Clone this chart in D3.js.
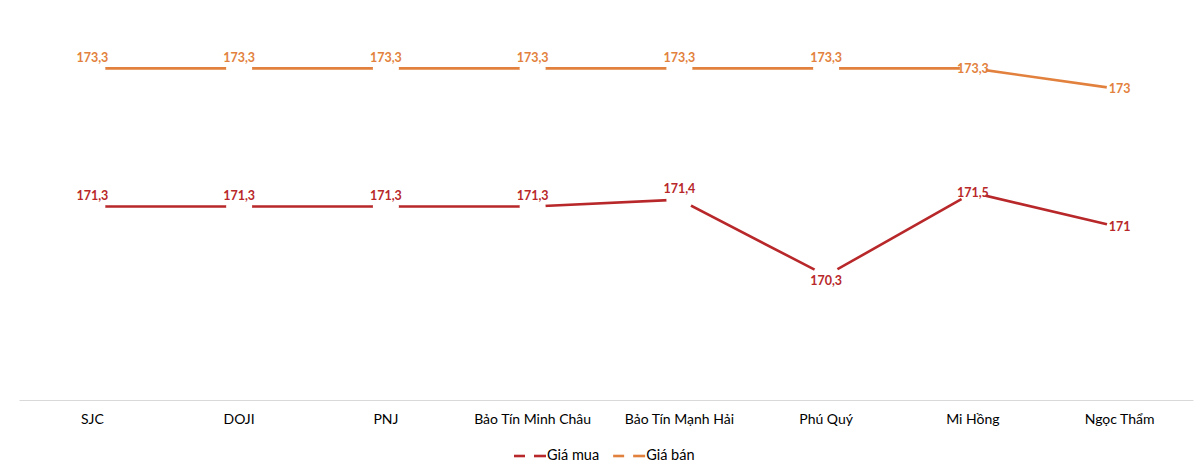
<!DOCTYPE html>
<html>
<head>
<meta charset="utf-8">
<script src="https://cdn.jsdelivr.net/npm/d3@7"></script>
<style>
  body { margin: 0; background: #fff; }
  svg { display: block; font-family: Lato, 'Noto Sans', sans-serif; }
</style>
</head>
<body>
<svg id="chart" width="1200" height="470"></svg>
<script>
// companies along the x axis
const companies = ['SJC', 'DOJI', 'PNJ', 'Bảo Tín Minh Châu', 'Bảo Tín Mạnh Hải', 'Phú Quý', 'Mi Hồng', 'Ngọc Thẩm'];
// buying price (giá mua), million VND / tael
const giaMua = [171.3, 171.3, 171.3, 171.3, 171.4, 170.3, 171.5, 171];
// selling price (giá bán)
const giaBan = [173.3, 173.3, 173.3, 173.3, 173.3, 173.3, 173.3, 173];
// where Excel dropped each data label
const muaLabelPos = ['above', 'above', 'above', 'above', 'above', 'below', 'center', 'center'];
const banLabelPos = ['above', 'above', 'above', 'above', 'above', 'above', 'center', 'center'];

const series = [
  { name: 'Giá mua', values: giaMua, pos: muaLabelPos, color: '#b8282a' },
  { name: 'Giá bán', values: giaBan, pos: banLabelPos, color: '#e2813d' },
];

const svg = d3.select('#chart');
const margin = { left: 19, right: 7, top: 20, bottom: 70 };
const width = 1200, height = 470;

const x = d3.scaleBand()
  .domain(companies)
  .range([margin.left, width - margin.right]);

const y = d3.scaleLinear()
  .domain([168.5, 174])
  .range([height - margin.bottom, margin.top]);

// category axis
const xAxis = svg.append('g')
  .attr('transform', `translate(0,${height - margin.bottom})`)
  .call(d3.axisBottom(x).tickSize(0).tickPadding(14));
xAxis.select('.domain').attr('stroke', '#d9d9d9').attr('stroke-width', 1.2);
xAxis.selectAll('text')
  .attr('font-family', 'Lato, sans-serif')
  .attr('font-size', 14)
  .attr('fill', '#000');

const cx = d => x(d) + x.bandwidth() / 2;
const fmt = v => String(v).replace('.', ',');
const offsets = { above: -10, below: 6, center: 1 };

const line = d3.line()
  .x((v, i) => cx(companies[i]))
  .y(v => y(v));

series.forEach(s => {
  svg.append('path')
    .datum(s.values)
    .attr('fill', 'none')
    .attr('stroke', s.color)
    .attr('stroke-width', 2.6)
    .attr('d', line);

  // white knock-out around each point, like the chart's hidden markers
  svg.append('g')
    .selectAll('circle')
    .data(s.values)
    .join('circle')
    .attr('cx', (v, i) => cx(companies[i]))
    .attr('cy', v => y(v))
    .attr('r', 13)
    .attr('fill', '#fff');
});

series.forEach(s => {
  svg.append('g')
    .selectAll('text')
    .data(s.values)
    .join('text')
    .attr('x', (v, i) => cx(companies[i]))
    .attr('y', (v, i) => y(v) + offsets[s.pos[i]])
    .attr('text-anchor', 'middle')
    .attr('dominant-baseline', 'middle')
    .attr('font-size', 12.5)
    .attr('font-weight', 'bold')
    .attr('fill', s.color)
    .text(fmt);
});

// legend
const legend = svg.append('g').attr('transform', 'translate(514,456)');
let lx = 0;
series.forEach(s => {
  const g = legend.append('g').attr('transform', `translate(${lx},0)`);
  g.append('line').attr('x1', 0).attr('x2', 11).attr('stroke', s.color).attr('stroke-width', 2.6);
  g.append('line').attr('x1', 20).attr('x2', 32).attr('stroke', s.color).attr('stroke-width', 2.6);
  const t = g.append('text')
    .attr('x', 33)
    .attr('dominant-baseline', 'middle')
    .attr('font-size', 14.5)
    .attr('fill', '#000')
    .text(s.name);
  lx += 33 + t.node().getComputedTextLength() + 14;
});
</script>
</body>
</html>
